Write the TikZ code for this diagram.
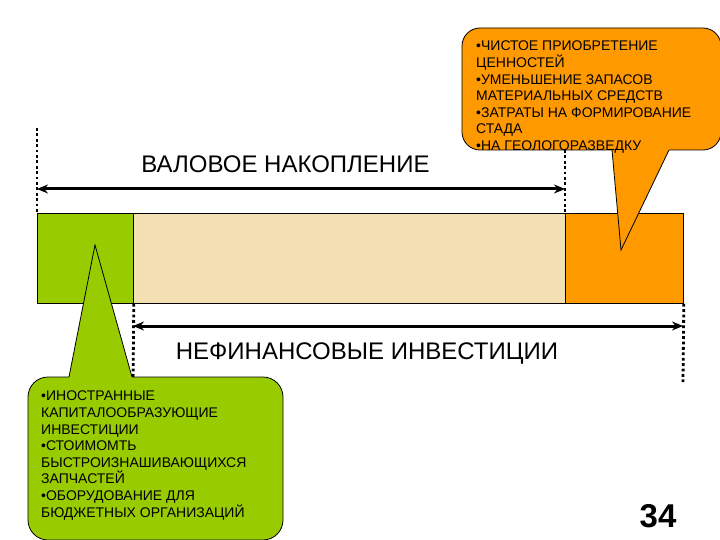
\documentclass[tikz,border=0pt]{standalone}
\usepackage{fontspec}
\setmainfont{Liberation Sans}
\usetikzlibrary{arrows.meta}
\definecolor{cgreen}{HTML}{99CC00}
\definecolor{cbeige}{HTML}{F3E1B3}
\definecolor{corange}{HTML}{FF9900}
\begin{document}
\begin{tikzpicture}[x=1pt,y=-1pt,
  bar/.style={draw=black, line width=0.8pt, inner sep=0, minimum height=90pt, anchor=north west},
  dots/.style={line width=2.8pt, dash pattern=on 2.8pt off 2.6pt},
  span/.style={line width=3pt, {Stealth[length=11pt,width=9pt]}-{Stealth[length=11pt,width=9pt]}},
  biglabel/.style={inner sep=0, anchor=base},
  calltext/.style={font=\fontsize{14}{16.6}\selectfont, align=left, inner sep=0, anchor=north west},
  callout/.style={line width=0.8pt},
]
\useasboundingbox (0,0) rectangle (720,540);
\clip (0,0) rectangle (720,540);
\fill[white] (0,0) rectangle (720,540);
% bar
\node[bar, fill=cgreen, minimum width=96pt] (g) at (37,213) {};
\node[bar, fill=cbeige, minimum width=432pt] (b) at (133,213) {};
\node[bar, fill=corange, minimum width=118pt] (o) at (565,213) {};
% dotted guides
\coordinate (d1) at (37,128);
\coordinate (d2) at (565,150);
\coordinate (d3) at (133,385);
\coordinate (d4) at (683,383);
\draw[dots] (d1) -- (g.north west);
\draw[dots] (d2) -- (o.north west);
\draw[dots] (g.south east) -- (d3);
\draw[dots] (o.south east) -- (d4);
% spans
\coordinate (u1) at (37,189);
\coordinate (u2) at (565,189);
\coordinate (l1) at (133,326);
\coordinate (l2) at (683,326);
\draw[span] (u1) -- (u2);
\draw[span] (l1) -- (l2);
% labels
\node[biglabel, font=\fontsize{24}{28}\selectfont] (gross) at (285.5,173) {ВАЛОВОЕ НАКОПЛЕНИЕ};
\node[biglabel, font=\fontsize{24}{28}\selectfont] (nonfin) at (367,359) {НЕФИНАНСОВЫЕ ИНВЕСТИЦИИ};
% orange callout
\draw[callout, fill=corange, rounded corners=18pt] (462,28) rectangle (721,150);
\coordinate (ot) at (621,250);
\fill[corange] (612,146) -- (612,150) -- (ot) -- (669,150) -- (669,146) -- cycle;
\draw[callout] (612,150) -- (ot) -- (669,150);
\node[calltext] (otext) at (476,41) {•ЧИСТОЕ ПРИОБРЕТЕНИЕ\\ЦЕННОСТЕЙ\\•УМЕНЬШЕНИЕ ЗАПАСОВ\\МАТЕРИАЛЬНЫХ СРЕДСТВ\\•ЗАТРАТЫ НА ФОРМИРОВАНИЕ\\СТАДА\\•НА ГЕОЛОГОРАЗВЕДКУ};
% green callout
\draw[callout, fill=cgreen, rounded corners=20pt] (28,377) rectangle (283,540);
\coordinate (gt) at (95,245);
\fill[cgreen] (69,381) -- (69,377) -- (gt) -- (132,377) -- (132,381) -- cycle;
\draw[callout] (69,377) -- (gt) -- (132,377);
\node[calltext] (gtext) at (41,391) {•ИНОСТРАННЫЕ\\КАПИТАЛООБРАЗУЮЩИЕ\\ИНВЕСТИЦИИ\\•СТОИМОМТЬ\\БЫСТРОИЗНАШИВАЮЩИХСЯ\\ЗАПЧАСТЕЙ\\•ОБОРУДОВАНИЕ ДЛЯ\\БЮДЖЕТНЫХ ОРГАНИЗАЦИЙ};
% page number
\node[font=\bfseries\fontsize{33}{36}\selectfont, inner sep=0, anchor=base] (num) at (658,527) {34};
\end{tikzpicture}
\end{document}
